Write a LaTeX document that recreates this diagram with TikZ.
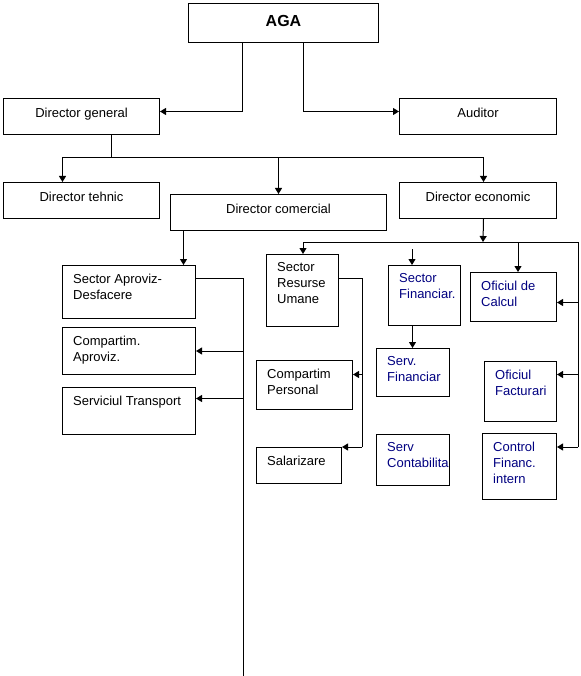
\documentclass[tikz,border=0pt]{standalone}
\usepackage{fontspec}
\setmainfont{Liberation Sans}
\usetikzlibrary{arrows.meta}
\definecolor{navyc}{HTML}{000080}
\tikzset{
  box/.style={draw,line width=1pt,inner sep=0pt,anchor=north west},
  ctr/.style={font=\fontsize{13}{16}\selectfont,inner sep=0pt,text height=9.5pt,text depth=2.5pt,yshift=2.5pt},
  tl/.style={font=\fontsize{13}{16}\selectfont,align=left,inner sep=0pt,anchor=north west,xshift=11pt,yshift=-8.6pt},
  ln/.style={line width=1pt},
  ar/.style={-{Triangle[length=6pt,width=7pt]},line width=1pt}
}
\begin{document}
\begin{tikzpicture}[x=1pt,y=-1pt]
\useasboundingbox (0,0) rectangle (580,676);
% top level
\node[box,minimum width=190,minimum height=39,
  label={[ctr,font=\fontsize{16}{18}\selectfont\bfseries,text height=11.5pt,text depth=0pt,yshift=-0.5pt]center:AGA}] (aga) at (188,3) {};
\node[box,minimum width=156,minimum height=36,label={[ctr]center:Director general}] (dg) at (3,98) {};
\node[box,minimum width=157,minimum height=36,label={[ctr]center:Auditor}] (aud) at (399,98) {};
% directors
\node[box,minimum width=156,minimum height=36,label={[ctr]center:Director tehnic}] (dt) at (3,182) {};
\node[box,minimum width=216,minimum height=36,label={[ctr]center:Director comercial}] (dc) at (170,194) {};
\node[box,minimum width=157,minimum height=36,label={[ctr]center:Director economic}] (de) at (399,182) {};
% comercial side
\node[box,minimum width=133,minimum height=53,label={[tl]north west:{Sector Aproviz-\\Desfacere}}] (sad) at (62,265) {};
\node[box,minimum width=133,minimum height=47,label={[tl]north west:{Compartim.\\Aproviz.}}] (cap) at (62,327) {};
\node[box,minimum width=133,minimum height=47,label={[tl]north west:Serviciul Transport}] (stp) at (62,387) {};
% economic side
\node[box,minimum width=72,minimum height=72,label={[tl]north west:{Sector\\Resurse\\Umane}}] (sru) at (266,254) {};
\node[box,minimum width=96,minimum height=49,label={[tl]north west:{Compartim\\Personal}}] (cpe) at (256,360) {};
\node[box,minimum width=85,minimum height=36,label={[tl]north west:Salarizare}] (sal) at (256,447) {};
\node[box,minimum width=72,minimum height=60,label={[tl,navyc]north west:{Sector\\Financiar.}}] (sfi) at (388,265) {};
\node[box,minimum width=73,minimum height=48,label={[tl,navyc]north west:{Serv.\\Financiar}}] (sfn) at (376,348) {};
\node[box,minimum width=73,minimum height=51,label={[tl,navyc]north west:{Serv\\Contabilita}}] (sco) at (376,434) {};
\node[box,minimum width=86,minimum height=49,label={[tl,navyc]north west:{Oficiul de\\Calcul}}] (ocl) at (470,272) {};
\node[box,minimum width=72,minimum height=60,label={[tl,navyc]north west:{Oficiul\\Facturari}}] (ofa) at (484,361) {};
\node[box,minimum width=74,minimum height=66,label={[tl,navyc]north west:{Control\\Financ.\\intern}}] (cfi) at (482,433) {};
% bus points and entry points
\coordinate (gbus) at (111,158);
\coordinate (cbot) at (243,676);
\coordinate (ebus) at (483,242);
\coordinate (eL) at (303,242);
\coordinate (eR) at (578,242);
\coordinate (eRb) at (578,447);
\coordinate (sfTop) at (412,249);
\coordinate (rBot) at (362,447);
\coordinate (stpIn) at ([yshift=12.5pt]stp.east);
\coordinate (oclIn) at ([yshift=-5.5pt]ocl.east);
\coordinate (ofaIn) at ([yshift=17pt]ofa.east);
\coordinate (cpeIn) at ([yshift=10.5pt]cpe.east);
\coordinate (sadOut) at ([xshift=-95pt]dc.south);
\coordinate (sfiOut) at ([xshift=-12pt]sfi.south);
\coordinate (oclTop) at (518,242);
% AGA links
\draw[ar] ([xshift=-41pt]aga.south) |- ([yshift=5pt]dg.east);
\draw[ar] ([xshift=20pt]aga.south) |- ([yshift=5pt]aud.west);
% Director general to directors
\draw[ln] (dg.south -| gbus) -- (gbus);
\draw[ar] (gbus) -| ([xshift=-19pt]dt.north);
\draw[ar] (gbus) -| (dc.north);
\draw[ar] (gbus) -| ([xshift=5.5pt]de.north);
% comercial
\draw[ar] (sadOut) -- (sadOut |- sad.north);
\draw[ln] ([yshift=13.5pt]sad.east) -| (cbot);
\draw[ar] (cbot |- cap.east) -- (cap.east);
\draw[ar] (cbot |- stpIn) -- (stpIn);
% economic
\draw[ar] ([xshift=5.5pt]de.south) -- (ebus);
\draw[ln] (eL) -- (eR) -- (eRb);
\draw[ar] (eL) -- (eL |- sru.north);
\draw[ar] (oclTop) -- (oclTop |- ocl.north);
\draw[ar] (eR |- oclIn) -- (oclIn);
\draw[ar] (eR |- ofaIn) -- (ofaIn);
\draw[ar] (eRb) -- (eRb -| cfi.east);
\draw[ar] (sfTop) -- (sfTop |- sfi.north);
\draw[ar] (sfiOut) -- (sfiOut |- sfn.north);
% resurse umane
\draw[ln] ([yshift=12pt]sru.east) -| (rBot);
\draw[ar] (rBot |- cpeIn) -- (cpeIn);
\draw[ar] (rBot) -- (sal.north east);
\end{tikzpicture}
\end{document}
